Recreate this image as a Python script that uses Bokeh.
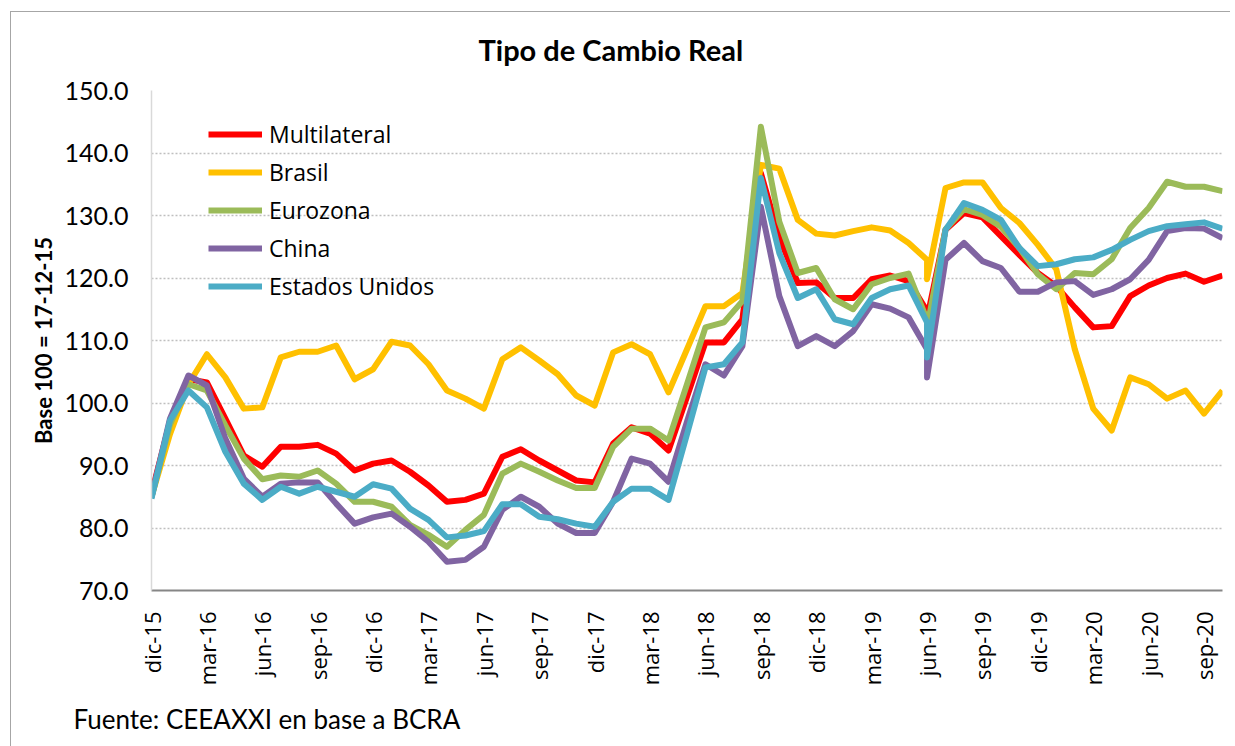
import math
from bokeh.plotting import figure
from bokeh.models import Range1d, FixedTicker, PrintfTickFormatter, Legend, LegendItem, Title
from bokeh.embed import file_html
from bokeh.resources import INLINE

# ---- data -------------------------------------------------------------
tick_labels = ["dic-15", "mar-16", "jun-16", "sep-16", "dic-16", "mar-17", "jun-17",
               "sep-17", "dic-17", "mar-18", "jun-18", "sep-18", "dic-18", "mar-19",
               "jun-19", "sep-19", "dic-19", "mar-20", "jun-20", "sep-20"]

# month index from dic-15 (0) to oct-20 (58); jun-19 (42) carries two readings
month_idx = list(range(43)) + [42] + list(range(43, 59))

multilateral = [85.5, 97.0, 103.8, 103.3, 97.5, 91.6, 89.8, 93.0, 93.0, 93.3, 91.9, 89.2,
                90.3, 90.8, 89.0, 86.8, 84.2, 84.5, 85.5, 91.4, 92.6, 90.8, 89.2, 87.6,
                87.3, 93.5, 96.1, 95.1, 92.4, 101.0, 109.7, 109.7, 113.4, 136.8, 126.5,
                119.2, 119.3, 116.8, 116.8, 119.8, 120.4, 119.5, 114.7, 113.5, 127.7,
                130.4, 129.7, 126.7, 123.7, 120.8, 118.7, 115.3, 112.1, 112.3, 117.1,
                118.8, 120.0, 120.7, 119.4, 120.4]

brasil = [85.0, 95.0, 103.0, 107.8, 104.1, 99.1, 99.3, 107.3, 108.2, 108.2, 109.2, 103.8,
          105.4, 109.8, 109.2, 106.2, 102.0, 100.7, 99.1, 107.0, 108.9, 106.8, 104.6, 101.2,
          99.6, 108.1, 109.4, 107.8, 101.7, 108.6, 115.5, 115.5, 117.6, 138.1, 137.5,
          129.3, 127.1, 126.8, 127.5, 128.1, 127.6, 125.6, 122.9, 119.8, 134.4,
          135.3, 135.3, 131.2, 128.8, 125.3, 121.4, 108.6, 99.1, 95.6, 104.1,
          103.0, 100.7, 102.0, 98.3, 102.0]

eurozona = [85.0, 96.5, 103.0, 102.0, 96.4, 91.1, 87.8, 88.4, 88.2, 89.2, 87.1, 84.2,
            84.2, 83.4, 80.5, 78.9, 77.0, 79.7, 82.1, 88.7, 90.3, 89.0, 87.6, 86.4,
            86.4, 93.0, 95.9, 95.9, 94.0, 103.0, 112.1, 112.9, 116.3, 144.2, 129.0,
            120.8, 121.6, 116.6, 115.0, 119.0, 120.0, 120.7, 113.3, 112.0, 127.8,
            131.0, 130.1, 128.2, 124.8, 120.6, 118.2, 120.8, 120.6, 123.0, 128.0,
            131.2, 135.4, 134.6, 134.6, 133.9]

china = [85.0, 97.5, 104.4, 102.8, 94.3, 87.9, 85.0, 87.1, 87.3, 87.3, 83.9, 80.7,
         81.7, 82.3, 80.2, 77.8, 74.6, 74.9, 77.0, 82.9, 85.0, 83.4, 80.7, 79.2,
         79.2, 84.2, 91.1, 90.3, 87.4, 97.0, 106.2, 104.4, 109.1, 131.4, 117.1,
         109.1, 110.7, 109.1, 111.5, 115.8, 115.1, 113.7, 108.6, 104.1, 122.9,
         125.6, 122.7, 121.6, 117.8, 117.8, 119.3, 119.5, 117.3, 118.2, 119.8,
         122.9, 127.5, 128.0, 127.9, 126.4]

estados_unidos = [84.7, 97.2, 102.0, 99.3, 92.2, 87.1, 84.5, 86.6, 85.5, 86.6, 85.8, 85.0,
                  87.0, 86.3, 83.1, 81.3, 78.5, 78.8, 79.5, 83.8, 83.8, 81.8, 81.4, 80.7,
                  80.2, 84.2, 86.3, 86.3, 84.5, 95.0, 105.7, 106.2, 109.7, 136.0, 124.0,
                  116.8, 118.2, 113.4, 112.6, 116.8, 118.2, 118.8, 112.9, 107.3, 127.7,
                  132.0, 130.9, 129.3, 124.8, 121.9, 122.2, 123.0, 123.3, 124.5, 126.1,
                  127.5, 128.3, 128.6, 128.9, 127.9]

series_names = ["Multilateral", "Brasil", "Eurozona", "China", "Estados Unidos"]
series_values = [multilateral, brasil, eurozona, china, estados_unidos]
series_colors = ["#FF0000", "#FFC000", "#9BBB59", "#8064A2", "#4BACC6"]

# ---- figure -----------------------------------------------------------
p = figure(width=1230, height=746, output_backend="svg", toolbar_location=None,
           x_range=Range1d(0, 58), y_range=Range1d(70, 150),
           min_border_left=151, min_border_right=8, min_border_top=90, min_border_bottom=100)
p.outline_line_color = None
p.background_fill_color = "white"
p.border_fill_color = None
p.styles = {
    "background": ("linear-gradient(#a6a6a6,#a6a6a6) 10px 11px / 1px 100% no-repeat, "
                   "linear-gradient(#a6a6a6,#a6a6a6) 10px 11px / 100% 1px no-repeat, white"),
}

items = []
for name, vals, col in zip(series_names, series_values, series_colors):
    r = p.line(month_idx, vals, line_color=col, line_width=6, line_join="round")
    items.append(LegendItem(label=name, renderers=[r]))

legend = Legend(items=items, location=(57, 288), background_fill_alpha=0,
                border_line_color=None, glyph_width=54, glyph_height=20, label_height=20,
                spacing=6, padding=0, margin=0, label_standoff=7,
                label_text_font="Open Sans", label_text_font_size="23px",
                label_text_color="black")
p.add_layout(legend)

# y axis
p.yaxis.ticker = FixedTicker(ticks=[70, 80, 90, 100, 110, 120, 130, 140, 150])
p.yaxis.formatter = PrintfTickFormatter(format="%.1f")
p.yaxis.major_label_text_font = "Lato"
p.yaxis.major_label_text_font_size = "25px"
p.yaxis.major_label_text_color = "black"
p.yaxis.major_label_standoff = 17
p.yaxis.major_tick_line_color = None
p.yaxis.minor_tick_line_color = None
p.yaxis.axis_line_color = "#D9D9D9"
p.yaxis.axis_line_width = 1.5
p.yaxis.axis_label = "Base 100 = 17-12-15"
p.yaxis.axis_label_text_font = "Lato"
p.yaxis.axis_label_text_font_style = "bold"
p.yaxis.axis_label_text_font_size = "22px"
p.yaxis.axis_label_text_color = "black"
p.yaxis.axis_label_standoff = 5

# x axis
p.xaxis.ticker = FixedTicker(ticks=[3 * i for i in range(len(tick_labels))])
p.xaxis.major_label_overrides = {3 * i: lab for i, lab in enumerate(tick_labels)}
p.xaxis.major_label_orientation = math.pi / 2
p.xaxis.major_label_text_font = "Open Sans"
p.xaxis.major_label_text_font_size = "22px"
p.xaxis.major_label_text_color = "black"
p.xaxis.major_label_standoff = 15
p.xaxis.major_tick_line_color = None
p.xaxis.minor_tick_line_color = None
p.xaxis.axis_line_color = "#868686"
p.xaxis.axis_line_width = 2

# grid
p.xgrid.visible = False
p.ygrid.grid_line_color = "#BFBFBF"
p.ygrid.grid_line_dash = "2 2"
p.ygrid.grid_line_width = 1.5

# title and source note
p.add_layout(Title(text="Tipo de Cambio Real", align="left", offset=327, standoff=47,
                   text_font="Lato", text_font_style="bold", text_font_size="29px",
                   text_color="black"), "above")
p.add_layout(Title(text="Fuente: CEEAXXI en base a BCRA", align="left", offset=-78,
                   standoff=24, text_font="Lato", text_font_style="normal",
                   text_font_size="26px", text_color="black"), "below")

open("out.html", "w").write(file_html(p, INLINE))
